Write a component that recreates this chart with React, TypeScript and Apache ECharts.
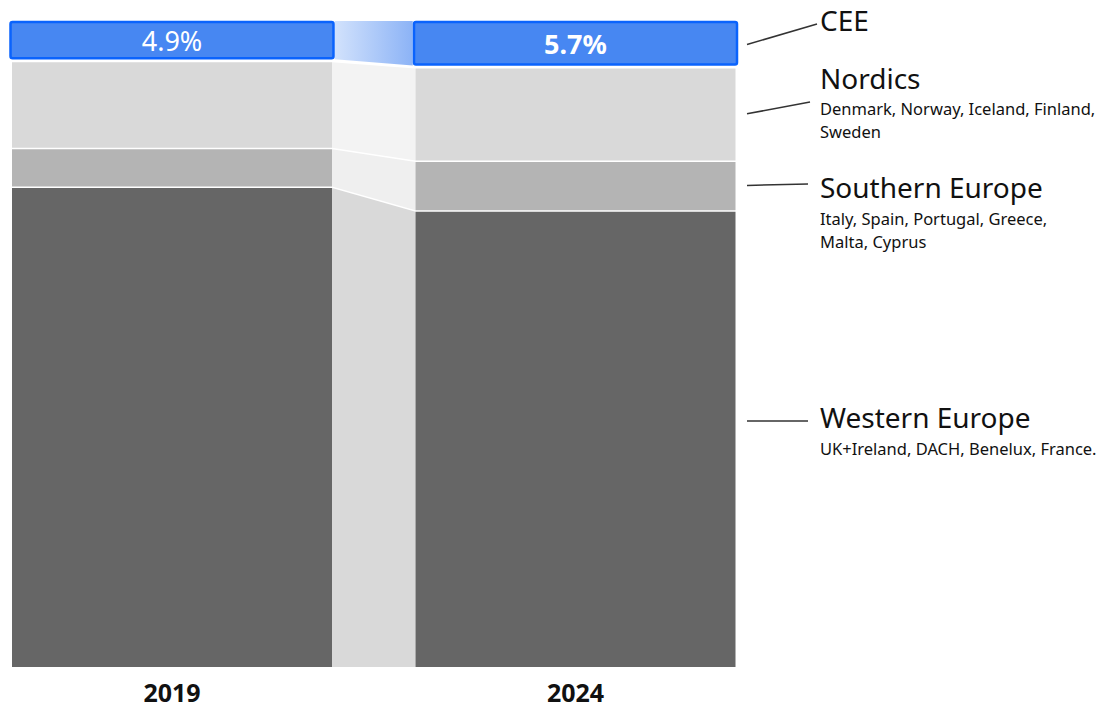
import React, { useEffect, useRef } from "react";
import * as echarts from "echarts";

// ---------- data ----------
const years = ["2019", "2024"];
// bottom to top
const regions = ["Western Europe", "Southern Europe", "Nordics", "CEE"];
const regionNotes = [
  "UK+Ireland, DACH, Benelux, France.",
  "Italy, Spain, Portugal, Greece,\nMalta, Cyprus",
  "Denmark, Norway, Iceland, Finland,\nSweden",
  "",
];
const western = [79.2, 76.2];
const southern = [4.9, 6.3];
const nordics = [11.0, 11.8];
const cee = [4.9, 5.7];
const ceeLabels = ["4.9%", "5.7%"];
const yMin = 18.5;
const yMax = 100;

// ---------- styles / layout ----------
const FONT = "'Noto Sans', sans-serif";
const barColors = ["#666666", "#b4b4b4", "#d9d9d9", "#4787f2"];
const flowColors = ["#d9d9d9", "#efefef", "#f3f3f3", ""];
const ceeStroke = "#0a63fd";
const BAR_W = 320;
// annotation layout per region: leader end point, title & note y
const annot = [
  { fromMid: false, lineX: 808, lineY: 421, titleY: 417, noteY: 437 },
  { fromMid: true, lineX: 808, lineY: 184, titleY: 187, noteY: 207 },
  { fromMid: true, lineX: 810, lineY: 102, titleY: 78, noteY: 97 },
  { fromMid: true, lineX: 817, lineY: 24, titleY: 20, noteY: 0 },
];

const values = [western, southern, nordics, cee];

function stackOf(r: number, i: number): [number, number] {
  let base = 0;
  for (let k = 0; k < r; k++) base += values[k][i];
  return [base, base + values[r][i]];
}

export default function App() {
  const ref = useRef<HTMLDivElement>(null);
  useEffect(() => {
    if (!ref.current) return;
    const chart = echarts.init(ref.current, undefined, { renderer: "svg" });

    const renderBar = (r: number) => (params: any, api: any) => {
      const i = api.value(0);
      const b = Math.max(api.value(1), yMin);
      const t = api.value(2);
      const pB = api.coord([i, b]);
      const pT = api.coord([i, t]);
      const cx = pB[0];
      const children: any[] = [];
      if (r === 3) {
        const h = pB[1] - pT[1] - 2.5;
        children.push({
          type: "rect",
          shape: { x: cx - BAR_W / 2 - 1.5, y: pT[1], width: BAR_W + 3, height: h, r: 2 },
          style: { fill: barColors[3], stroke: ceeStroke, lineWidth: 2.5 },
        });
        children.push({
          type: "text",
          style: {
            text: ceeLabels[i],
            x: cx,
            y: pT[1] + h / 2,
            align: "center",
            verticalAlign: "middle",
            fill: "#ffffff",
            fontSize: 27,
            fontWeight: i === 1 ? "bold" : "normal",
            fontFamily: FONT,
          },
        });
      } else {
        children.push({
          type: "rect",
          shape: { x: cx - BAR_W / 2, y: pT[1] + 1.5, width: BAR_W, height: pB[1] - pT[1] - 1.5 },
          style: { fill: barColors[r] },
        });
      }
      if (i === years.length - 1) {
        const a = annot[r];
        const midY = (pT[1] + pB[1]) / 2;
        const x0 = cx + BAR_W / 2 + 11.5;
        children.push({
          type: "line",
          shape: { x1: x0, y1: a.fromMid ? midY : a.lineY, x2: a.lineX, y2: a.lineY },
          style: { stroke: "#333333", lineWidth: 1.5 },
        });
        children.push({
          type: "text",
          style: {
            text: regions[r],
            x: 820,
            y: a.titleY,
            align: "left",
            verticalAlign: "middle",
            fill: "#111111",
            fontSize: 28,
            fontFamily: FONT,
          },
        });
        if (regionNotes[r]) {
          children.push({
            type: "text",
            style: {
              text: regionNotes[r],
              x: 820,
              y: a.noteY,
              align: "left",
              verticalAlign: "top",
              lineHeight: 23,
              fill: "#111111",
              fontSize: 16.5,
              fontFamily: FONT,
            },
          });
        }
      }
      return { type: "group", children };
    };

    const renderFlow = (params: any, api: any) => {
      const r = api.value(0);
      const b0 = Math.max(api.value(1), yMin);
      const t0 = api.value(2);
      const b1 = Math.max(api.value(3), yMin);
      const t1 = api.value(4);
      const cT0 = api.coord([0, t0]);
      const cB0 = api.coord([0, b0]);
      const cT1 = api.coord([1, t1]);
      const cB1 = api.coord([1, b1]);
      if (r === 3) {
        const x0 = cT0[0] + BAR_W / 2 + 2.75;
        const x1 = cT1[0] - BAR_W / 2 - 2.75;
        return {
          type: "polygon",
          shape: {
            points: [
              [x0, cT0[1] - 1],
              [x1, cT1[1] - 1],
              [x1, cB1[1] - 1.5],
              [x0, cB0[1] - 1.5],
            ],
          },
          style: {
            fill: new echarts.graphic.LinearGradient(0, 0, 1, 0, [
              { offset: 0, color: "#d2e2fc" },
              { offset: 1, color: "#8cb3f6" },
            ]),
          },
        };
      }
      const x0 = cT0[0] + BAR_W / 2;
      const x1 = cT1[0] - BAR_W / 2;
      return {
        type: "polygon",
        shape: {
          points: [
            [x0, cT0[1] + 1.5],
            [x1, cT1[1] + 1.5],
            [x1, cB1[1]],
            [x0, cB0[1]],
          ],
        },
        style: { fill: flowColors[r] },
      };
    };

    const flowData = regions.map((_, r) => {
      const s0 = stackOf(r, 0);
      const s1 = stackOf(r, 1);
      return [r, s0[0], s0[1], s1[0], s1[1]];
    });

    const series: any[] = [
      {
        type: "custom",
        name: "flows",
        coordinateSystem: "cartesian2d",
        renderItem: renderFlow,
        encode: { x: 0, y: [1, 2] },
        data: flowData,
        clip: false,
        z: 1,
      },
      ...regions.map((name, r) => ({
        type: "custom",
        name,
        coordinateSystem: "cartesian2d",
        renderItem: renderBar(r),
        encode: { x: 0, y: [1, 2] },
        data: years.map((_, i) => {
          const s = stackOf(r, i);
          return [i, s[0], s[1]];
        }),
        clip: false,
        z: 2,
      })),
    ];

    chart.setOption({
      animation: false,
      backgroundColor: "#ffffff",
      grid: { left: 172, right: 539.5, top: 22, bottom: 42 },
      xAxis: {
        type: "category",
        data: years,
        boundaryGap: false,
        axisLine: { show: false },
        axisTick: { show: false },
        splitLine: { show: false },
        axisLabel: {
          fontSize: 25,
          fontWeight: "bold",
          color: "#111111",
          fontFamily: FONT,
          margin: 12,
        },
      },
      yAxis: { type: "value", min: yMin, max: yMax, show: false },
      series,
    });
    return () => chart.dispose();
  }, []);
  return (
    <div
      ref={ref}
      style={{ position: "fixed", left: 0, top: 0, width: 1115, height: 709 }}
    />
  );
}
